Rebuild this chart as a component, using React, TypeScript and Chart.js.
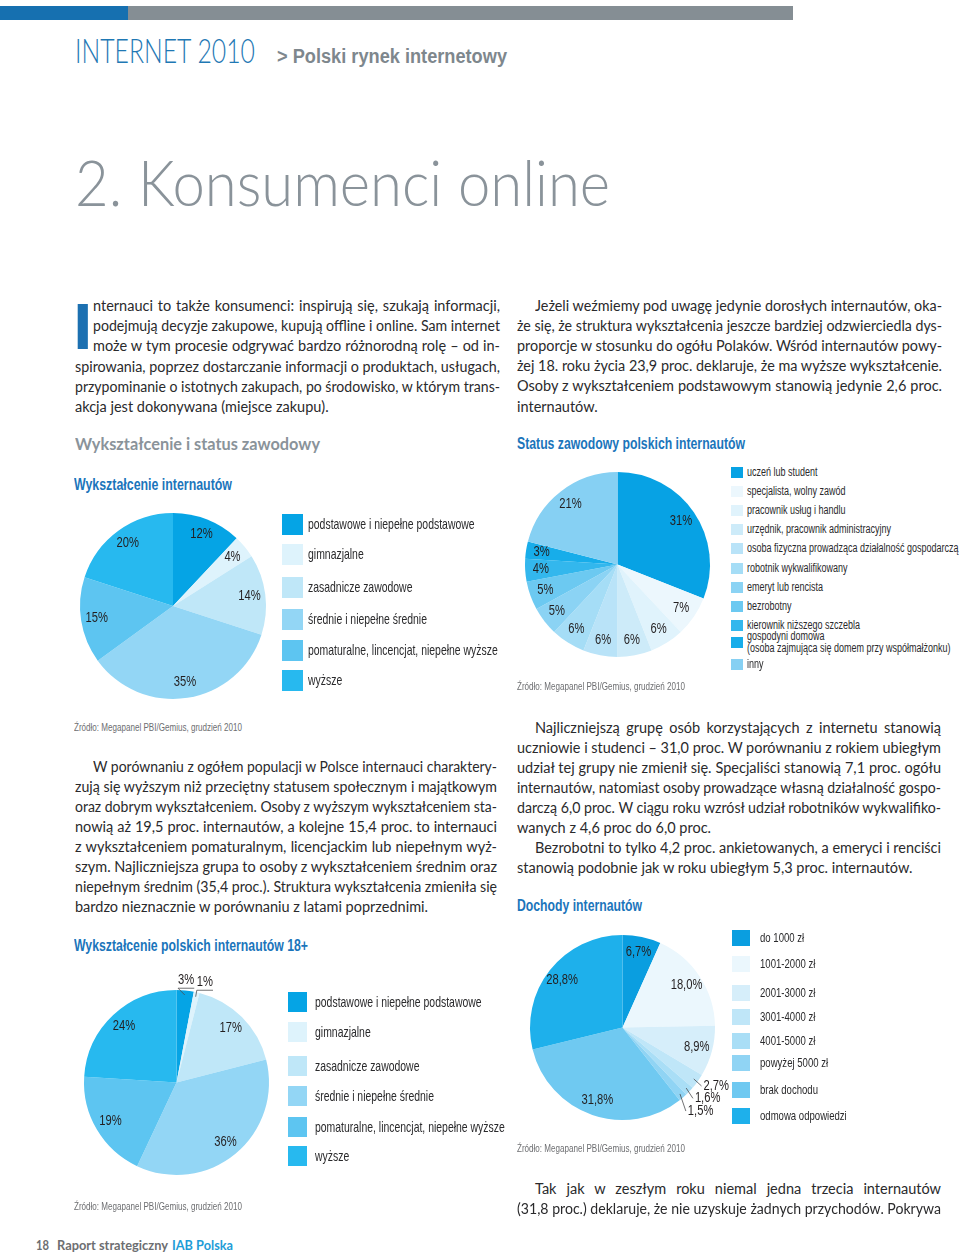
import React, { useEffect, useLayoutEffect, useRef } from "react";
import { Chart, registerables } from "chart.js";
Chart.register(...registerables);

// ---------- DATA ----------
const eduLabels = [
  "podstawowe i niepełne podstawowe",
  "gimnazjalne",
  "zasadnicze zawodowe",
  "średnie i niepełne średnie",
  "pomaturalne, lincencjat, niepełne wyższe",
  "wyższe",
];
const eduAllValues = [12, 4, 14, 35, 15, 20];
const edu18Values = [3, 1, 17, 36, 19, 24];
const eduColors = ["#05a4e5", "#def3fc", "#bfe7f8", "#93d6f5", "#5dc5f1", "#27b9ef"];

const statusLabels = [
  "uczeń lub student",
  "specjalista, wolny zawód",
  "pracownik usług i handlu",
  "urzędnik, pracownik administracyjny",
  "osoba fizyczna prowadząca działalność gospodarczą",
  "robotnik wykwalifikowany",
  "emeryt lub rencista",
  "bezrobotny",
  "kierownik niższego szczebla",
  "gospodyni domowa\n(osoba zajmująca się domem przy współmałżonku)",
  "inny",
];
const statusValues = [31, 7, 6, 6, 6, 6, 5, 5, 4, 3, 21];
const statusColors = [
  "#07a2e4", "#ecf7fd", "#e0f3fc", "#cdebf9", "#b9e3f8", "#a5ddf6",
  "#8bd3f4", "#6cc9f1", "#33b7ed", "#17adea", "#86d0f3",
];

const incomeLabels = [
  "do 1000 zł",
  "1001-2000 zł",
  "2001-3000 zł",
  "3001-4000 zł",
  "4001-5000 zł",
  "powyżej 5000 zł",
  "brak dochodu",
  "odmowa odpowiedzi",
];
const incomeValues = [6.7, 18.0, 8.9, 2.7, 1.6, 1.5, 31.8, 28.8];
const incomeColors = ["#0a9ee0", "#ebf7fd", "#d6eefa", "#bfe6f8", "#a9def6", "#90d4f4", "#6fc9f1", "#1eb0eb"];

const introLeft = [
  "nternauci to także konsumenci: inspirują się, szukają informacji,",
  "podejmują decyzje zakupowe, kupują offline i online. Sam internet",
  "może w tym procesie odgrywać bardzo różnorodną rolę – od in-",
  "spirowania, poprzez dostarczanie informacji o produktach, usługach,",
  "przypominanie o istotnych zakupach, po środowisko, w którym trans-",
  "akcja jest dokonywana (miejsce zakupu).",
];
const introRight = [
  "Jeżeli weźmiemy pod uwagę jedynie dorosłych internautów, oka-",
  "że się, że struktura wykształcenia jeszcze bardziej odzwierciedla dys-",
  "proporcje w stosunku do ogółu Polaków. Wśród internautów powy-",
  "żej 18. roku życia 23,9 proc. deklaruje, że ma wyższe wykształcenie.",
  "Osoby z wykształceniem podstawowym stanowią jedynie 2,6 proc.",
  "internautów.",
];
const midLeft = [
  "W porównaniu z ogółem populacji w Polsce internauci charaktery-",
  "zują się wyższym niż przeciętny statusem społecznym i majątkowym",
  "oraz dobrym wykształceniem. Osoby z wyższym wykształceniem sta-",
  "nowią aż 19,5 proc. internautów, a kolejne 15,4 proc. to internauci",
  "z wykształceniem pomaturalnym, licencjackim lub niepełnym wyż-",
  "szym. Najliczniejsza grupa to osoby z wykształceniem średnim oraz",
  "niepełnym średnim (35,4 proc.). Struktura wykształcenia zmieniła się",
  "bardzo nieznacznie w porównaniu z latami poprzednimi.",
];
const midRight = [
  "Najliczniejszą grupę osób korzystających z internetu stanowią",
  "uczniowie i studenci – 31,0 proc. W porównaniu z rokiem ubiegłym",
  "udział tej grupy nie zmienił się. Specjaliści stanowią 7,1 proc. ogółu",
  "internautów, natomiast osoby prowadzące własną działalność gospo-",
  "darczą 6,0 proc. W ciągu roku wzrósł udział robotników wykwalifiko-",
  "wanych z 4,6 proc do 6,0 proc.",
  "Bezrobotni to tylko 4,2 proc. ankietowanych, a emeryci i renciści",
  "stanowią podobnie jak w roku ubiegłym 5,3 proc. internautów.",
];
const bottomRight = [
  "Tak jak w zeszłym roku niemal jedna trzecia internautów",
  "(31,8 proc.) deklaruje, że nie uzyskuje żadnych przychodów. Pokrywa",
];
const sourceText = "Źródło: Megapanel PBI/Gemius, grudzień 2010";

// ---------- STYLE ----------
const NARROW = "'Liberation Sans', Arial, sans-serif";
const NSX = 0.8; // horizontal squeeze to imitate a condensed face
const BODY = "Lato, 'Open Sans', sans-serif";
const TEXT = "#2a2a2c";
const BLUE = "#1b75bb";
const GRAY = "#8a939a";

type LineProps = {
  x: number; y: number; w?: number; text: string; size?: number; family?: string;
  weight?: number | string; color?: string; justify?: boolean; fit?: boolean; lh?: number; off?: number; sx?: number;
};

function Line({ x, y, w, text, size = 14.5, family = BODY, weight = 400, color = TEXT, justify = false, fit = false, lh = 20, off = 0, sx }: LineProps) {
  const ref = useRef<HTMLSpanElement>(null);
  useLayoutEffect(() => {
    const s = ref.current;
    if (!s) return;
    const run = () => {
      s.style.wordSpacing = "0px";
      s.style.transform = "none";
      if (!w) {
        if (sx) s.style.transform = `scaleX(${sx})`;
        return;
      }
      const nat = s.getBoundingClientRect().width;
      if (!nat) return;
      const spaces = (text.match(/ /g) || []).length;
      if (fit || nat > w) s.style.transform = `scaleX(${w / nat})`;
      else if (justify && spaces) s.style.wordSpacing = `${(w - nat) / spaces}px`;
    };
    run();
    const f = (document as any).fonts;
    if (f && f.ready) f.ready.then(run);
  }, [text, w]);
  return (
    <div style={{ position: "absolute", left: x, top: y - lh / 2 - off, height: lh, lineHeight: `${lh}px`, whiteSpace: "pre", fontFamily: family, fontSize: size, fontWeight: weight as any, color }}>
      <span ref={ref} style={{ display: "inline-block", transformOrigin: "0 50%" }}>{text}</span>
    </div>
  );
}

function Para({ x, r, y, lines, indent, ends, step = 20.2 }: { x: number; r: number; y: number; lines: string[]; indent: number[]; ends: number[]; step?: number }) {
  return (
    <>
      {lines.map((t, i) => {
        const ix = indent.includes(i) ? 18 : 0;
        return <Line key={i} x={x + ix} y={y + i * step} w={r - x - ix} text={t} justify={!ends.includes(i)} off={-1} />;
      })}
    </>
  );
}

function labelPlugin(fmt: (v: number) => string, outsideBelow: number, fontSize: number) {
  return {
    id: "sliceLabels",
    afterDatasetsDraw(chart: any) {
      const ctx = chart.ctx as CanvasRenderingContext2D;
      const meta = chart.getDatasetMeta(0);
      const vals = chart.data.datasets[0].data as number[];
      ctx.save();
      ctx.font = `${fontSize}px ${NARROW}`;
      ctx.fillStyle = "#231f20";
      ctx.textBaseline = "middle";
      const draw = (t: string, px: number, py: number, align: CanvasTextAlign) => {
        ctx.save();
        ctx.translate(px, py);
        ctx.scale(NSX, 1);
        ctx.textAlign = align;
        ctx.fillText(t, 0, 0);
        ctx.restore();
      };
      const placed: { l: number; r: number; t: number; b: number }[] = [];
      meta.data.forEach((el: any, i: number) => {
        const { x, y, startAngle, endAngle, outerRadius } = el.getProps(["x", "y", "startAngle", "endAngle", "outerRadius"], true);
        const mid = (startAngle + endAngle) / 2;
        const v = vals[i];
        const t = fmt(v);
        const w = ctx.measureText(t).width * NSX;
        const cs = Math.cos(mid), sn = Math.sin(mid);
        if (v >= outsideBelow) {
          draw(t, x + cs * outerRadius * 0.83, y + sn * outerRadius * 0.83, "center");
          return;
        }
        const align: CanvasTextAlign = cs > 0.3 ? "left" : cs < -0.3 ? "right" : "center";
        const k = align === "center" ? 1.11 : 1.08;
        let ax = x + cs * outerRadius * k;
        let ay = y + sn * outerRadius * k;
        const h = fontSize * 0.85;
        const box = (px: number, py: number) => {
          const l = align === "left" ? px : align === "right" ? px - w : px - w / 2;
          return { l, r: l + w, t: py - h / 2, b: py + h / 2 };
        };
        let b = box(ax, ay);
        let guard = 0;
        while (placed.some((p) => !(b.r + 2 < p.l || b.l > p.r + 2 || b.b < p.t || b.t > p.b)) && guard++ < 300) {
          if (align === "center") ax += -sn > 0 ? 1 : -1;
          else ay += sn >= 0 ? 1 : -1;
          b = box(ax, ay);
        }
        placed.push(b);
        draw(t, ax, ay, align);
        ctx.beginPath();
        ctx.strokeStyle = "#4d4d4f";
        ctx.lineWidth = 0.8;
        ctx.moveTo(x + cs * outerRadius * 0.95, y + sn * outerRadius * 0.95);
        if (align === "center") {
          ctx.lineTo(b.l, b.b + 2);
          ctx.lineTo(b.r, b.b + 2);
        } else if (align === "left") ctx.lineTo(b.l - 2, ay);
        else ctx.lineTo(b.r + 2, ay);
        ctx.stroke();
      });
      ctx.restore();
    },
  };
}

function Pie({ cx, cy, r, pad, labels, values, colors, fmt, outsideBelow = 0, fontSize = 14 }: {
  cx: number; cy: number; r: number; pad: number; labels: string[]; values: number[]; colors: string[];
  fmt: (v: number) => string; outsideBelow?: number; fontSize?: number;
}) {
  const ref = useRef<HTMLCanvasElement>(null);
  useEffect(() => {
    const chart = new Chart(ref.current as HTMLCanvasElement, {
      type: "pie",
      data: { labels, datasets: [{ data: values, backgroundColor: colors, borderWidth: 0, hoverOffset: 0 } as any] },
      options: {
        responsive: false,
        animation: false,
        devicePixelRatio: 1,
        events: [],
        layout: { padding: pad },
        plugins: { legend: { display: false }, tooltip: { enabled: false } },
      } as any,
      plugins: [labelPlugin(fmt, outsideBelow, fontSize) as any],
    });
    return () => chart.destroy();
  }, []);
  const size = 2 * (r + pad);
  return <canvas ref={ref} width={size} height={size} style={{ position: "absolute", left: cx - r - pad, top: cy - r - pad, width: size, height: size }} />;
}

function Legend({ x, textX, rows, labels, colors, sw, sh, size, sx = 0.72, gap = 12 }: {
  x: number; textX: number; rows: number[]; labels: string[]; colors: string[]; sw: number; sh: number; size: number; sx?: number; gap?: number;
}) {
  return (
    <>
      {labels.map((lab, i) => {
        const parts = lab.split("\n");
        return (
          <React.Fragment key={i}>
            <div style={{ position: "absolute", left: x, top: rows[i] - sh / 2, width: sw, height: sh, background: colors[i] }} />
            {parts.map((p, j) => (
              <Line key={j} x={textX} y={rows[i] + (parts.length > 1 ? (j - 0.5) * gap : 0)} text={p} size={size} family={NARROW} color="#2a2a2c" lh={size + 4} sx={sx} />
            ))}
          </React.Fragment>
        );
      })}
    </>
  );
}

const pct = (v: number) => `${v}%`;
const pctPl = (v: number) => `${v.toFixed(1).replace(".", ",")}%`;

export default function App() {
  return (
    <div style={{ position: "absolute", left: 0, top: 0, width: 960, height: 1253, background: "#fff", overflow: "hidden" }}>
      {/* header bars */}
      <div style={{ position: "absolute", left: 0, top: 6, width: 128, height: 14, background: "#1670b0" }} />
      <div style={{ position: "absolute", left: 128, top: 6, width: 665, height: 14, background: "#858e94" }} />
      <Line x={75} y={50} w={180} fit text="INTERNET 2010" size={33} weight={300} color="#1f78b4" lh={40} />
      <Line x={277} y={56} w={230} fit text="> Polski rynek internetowy" size={20} family={NARROW} weight={700} color="#7e878d" lh={26} />
      <Line x={75} y={182} w={535} fit text="2. Konsumenci online" size={64} weight={300} color={GRAY} lh={72} />

      {/* intro */}
      <div style={{ position: "absolute", left: 73, top: 294.5, fontSize: 64, lineHeight: "64px", fontFamily: "'Liberation Sans', Arial, sans-serif", fontWeight: 700, color: "#1c70b1", transform: "scaleX(1.1)", transformOrigin: "0 0" }}>I</div>
      <Para x={75} r={500} y={305} lines={introLeft} indent={[0, 1, 2]} ends={[5]} />
      <Para x={517} r={942} y={304.5} lines={introRight} indent={[0]} ends={[5]} />

      <Line x={75} y={444} w={245} fit text="Wykształcenie i status zawodowy" size={17} weight={700} color={GRAY} lh={22} />
      <Line x={74} y={485} w={158} fit text="Wykształcenie internautów" size={16} family={NARROW} weight={700} color={BLUE} lh={22} />
      <Line x={517} y={444} w={228} fit text="Status zawodowy polskich internautów" size={16} family={NARROW} weight={700} color={BLUE} lh={22} />

      {/* pie 1 */}
      <Pie cx={173} cy={606} r={93} pad={20} labels={eduLabels} values={eduAllValues} colors={eduColors} fmt={pct} />
      <Legend x={282} textX={308} rows={[524, 554, 587, 619, 650, 680]} labels={eduLabels} colors={eduColors} sw={21} sh={21} size={14.5} />
      <Line x={74} y={727} w={168} fit text={sourceText} size={11.5} family={NARROW} color="#6d6e71" lh={14} />

      {/* pie 2 */}
      <Pie cx={617.5} cy={564} r={92.5} pad={20} labels={statusLabels} values={statusValues} colors={statusColors} fmt={pct} />
      <Legend x={731} textX={747} rows={[472, 491, 510, 529, 548, 568, 587, 606, 625, 642, 664]} labels={statusLabels} colors={statusColors} sw={12} sh={11} size={12.5} gap={11.6} />
      <Line x={517} y={686} w={168} fit text={sourceText} size={11.5} family={NARROW} color="#6d6e71" lh={14} />

      {/* middle paragraphs */}
      <Para x={75} r={497} y={766} lines={midLeft} indent={[0]} ends={[7]} step={20} />
      <Para x={517} r={941} y={727} lines={midRight} indent={[0, 6]} ends={[5, 7]} step={20} />

      <Line x={517} y={906} w={125} fit text="Dochody internautów" size={16} family={NARROW} weight={700} color={BLUE} lh={22} />
      <Line x={74} y={946} w={234} fit text="Wykształcenie polskich internautów 18+" size={16} family={NARROW} weight={700} color={BLUE} lh={22} />

      {/* pie 3 */}
      <Pie cx={176.5} cy={1082} r={92.5} pad={40} labels={eduLabels} values={edu18Values} colors={eduColors} fmt={pct} outsideBelow={3.5} />
      <Legend x={288} textX={315} rows={[1002, 1032, 1066, 1096, 1127, 1156]} labels={eduLabels} colors={eduColors} sw={19} sh={20} size={14.5} />
      <Line x={74} y={1206} w={168} fit text={sourceText} size={11.5} family={NARROW} color="#6d6e71" lh={14} />

      {/* pie 4 */}
      <Pie cx={622.5} cy={1027} r={92.5} pad={40} labels={incomeLabels} values={incomeValues} colors={incomeColors} fmt={pctPl} outsideBelow={3} />
      <Legend x={732} textX={760} rows={[938, 964, 993, 1017, 1041, 1063, 1090, 1116]} labels={incomeLabels} colors={incomeColors} sw={18} sh={16} size={13.3} />
      <Line x={517} y={1148} w={168} fit text={sourceText} size={11.5} family={NARROW} color="#6d6e71" lh={14} />

      <Para x={517} r={941} y={1188} lines={bottomRight} indent={[0]} ends={[]} step={20} />

      {/* footer */}
      <Line x={36} y={1245} w={13} fit text="18" size={14} weight={700} color="#6d6e71" lh={18} />
      <Line x={57} y={1245} w={111} fit text="Raport strategiczny" size={14} weight={700} color="#6d6e71" lh={18} />
      <Line x={172} y={1245} w={61} fit text="IAB Polska" size={14} weight={700} color="#1e9cd7" lh={18} />
    </div>
  );
}
